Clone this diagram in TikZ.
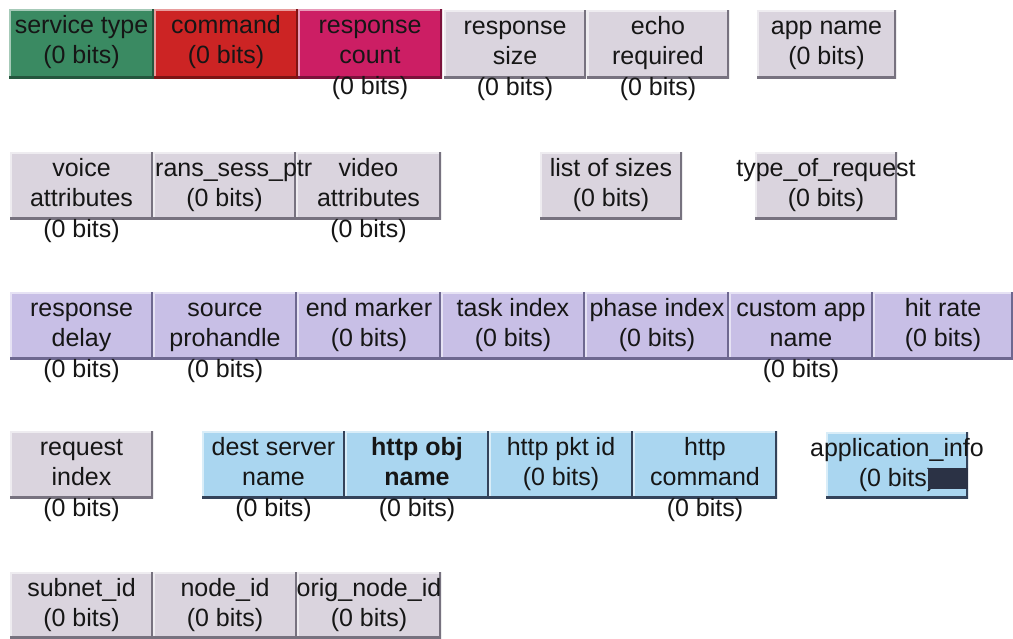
\documentclass[tikz,border=0pt]{standalone}
\usepackage{fontspec}
\setmainfont{Liberation Sans}
\definecolor{ink}{HTML}{161616}
\definecolor{fgray}{HTML}{DAD4DE}
\definecolor{fgrayedge}{HTML}{77727F}
\definecolor{flav}{HTML}{C8BFE6}
\definecolor{flavedge}{HTML}{6E6890}
\definecolor{fblue}{HTML}{AAD6F0}
\definecolor{fblueedge}{HTML}{34435A}
\definecolor{fgreen}{HTML}{3A8A62}
\definecolor{fgreenedge}{HTML}{24563D}
\definecolor{fred}{HTML}{CC2424}
\definecolor{frededge}{HTML}{7E1414}
\definecolor{fmag}{HTML}{CC1E64}
\definecolor{fmagedge}{HTML}{7C123C}
\definecolor{fnavy}{HTML}{2B3245}

\tikzset{
  % raised packet-field box: fill colour #1, shadow colour #2
  fieldbox/.style 2 args={rectangle, inner sep=0pt, outer sep=0pt,
    minimum height=68pt, fill=#1, anchor=north west,
    path picture={
      \draw[white!55!#1, line width=3pt]
        (path picture bounding box.south west) -- (path picture bounding box.north west)
        -- (path picture bounding box.north east);
      \draw[#2, line width=5pt]
        (path picture bounding box.south west) -- (path picture bounding box.south east)
        -- (path picture bounding box.north east);}},
  grayfield/.style={fieldbox={fgray}{fgrayedge}},
  lavfield/.style={fieldbox={flav}{flavedge}},
  bluefield/.style={fieldbox={fblue}{fblueedge}},
  greenfield/.style={fieldbox={fgreen}{fgreenedge}},
  redfield/.style={fieldbox={fred}{frededge}},
  magfield/.style={fieldbox={fmag}{fmagedge}},
  lbl/.style={inner sep=0pt, anchor=base, text=ink, font=\fontsize{25}{30}\selectfont},
}

% #1 id, #2 left, #3 right, #4 top, #5 style, #6 height
\newcommand\pfield[6]{%
  \node[#5, minimum width={(#3-#2)*1pt}, minimum height={#6*1pt}] (#1) at (#2,#4) {};}
% #1 id of the box, #2 line number (0,1,2), #3 text
\newcommand\pline[3]{%
  \node[lbl] (#1-#2) at ([yshift={-(24+30.5*#2)*1pt}]#1.north) {#3};}

\begin{document}
\begin{tikzpicture}[x=1pt,y=-1pt]
\useasboundingbox (0,0) rectangle (1013,638);
\fill[white] (0,0) rectangle (1013,638);

% ---- row 1
\pfield{svc}{9}{154}{9}{greenfield}{69}
\pfield{cmd}{154}{298}{9}{redfield}{69}
\pfield{rcount}{298}{442}{9}{magfield}{69}
\pfield{rsize}{444}{586}{10}{grayfield}{68}
\pfield{echo}{587}{729}{10}{grayfield}{68}
\pfield{app}{757}{896}{10}{grayfield}{68}
\pline{svc}{0}{service type}\pline{svc}{1}{(0 bits)}
\pline{cmd}{0}{command}\pline{cmd}{1}{(0 bits)}
\pline{rcount}{0}{response}\pline{rcount}{1}{count}\pline{rcount}{2}{(0 bits)}
\pline{rsize}{0}{response}\pline{rsize}{1}{size}\pline{rsize}{2}{(0 bits)}
\pline{echo}{0}{echo}\pline{echo}{1}{required}\pline{echo}{2}{(0 bits)}
\pline{app}{0}{app name}\pline{app}{1}{(0 bits)}

% ---- row 2
\pfield{voice}{10}{153}{152}{grayfield}{67}
\pfield{trans}{153}{296}{152}{grayfield}{67}
\pfield{video}{296}{441}{152}{grayfield}{67}
\pfield{sizes}{540}{682}{152}{grayfield}{67}
\pfield{treq}{755}{897}{152}{grayfield}{67}
\pline{voice}{0}{voice}\pline{voice}{1}{attributes}\pline{voice}{2}{(0 bits)}
\node[lbl, anchor=base west] (trans-0) at ([xshift=2pt,yshift=-24pt]trans.north west) {rans\_sess\_ptr};
\pline{trans}{1}{(0 bits)}
\pline{video}{0}{video}\pline{video}{1}{attributes}\pline{video}{2}{(0 bits)}
\pline{sizes}{0}{list of sizes}\pline{sizes}{1}{(0 bits)}
\pline{treq}{0}{type\_of\_request}\pline{treq}{1}{(0 bits)}

% ---- row 3
\pfield{rdelay}{10}{153}{292}{lavfield}{67}
\pfield{src}{153}{297}{292}{lavfield}{67}
\pfield{endm}{297}{441}{292}{lavfield}{67}
\pfield{task}{441}{585}{292}{lavfield}{67}
\pfield{phase}{585}{729}{292}{lavfield}{67}
\pfield{custom}{729}{873}{292}{lavfield}{67}
\pfield{hit}{873}{1013}{292}{lavfield}{67}
\pline{rdelay}{0}{response}\pline{rdelay}{1}{delay}\pline{rdelay}{2}{(0 bits)}
\pline{src}{0}{source}\pline{src}{1}{prohandle}\pline{src}{2}{(0 bits)}
\pline{endm}{0}{end marker}\pline{endm}{1}{(0 bits)}
\pline{task}{0}{task index}\pline{task}{1}{(0 bits)}
\pline{phase}{0}{phase index}\pline{phase}{1}{(0 bits)}
\pline{custom}{0}{custom app}\pline{custom}{1}{name}\pline{custom}{2}{(0 bits)}
\pline{hit}{0}{hit rate}\pline{hit}{1}{(0 bits)}

% ---- row 4
\pfield{reqidx}{10}{153}{431}{grayfield}{67}
\pfield{dest}{202}{345}{431}{bluefield}{67}
\pfield{hobj}{345}{489}{431}{bluefield}{67}
\pfield{hpkt}{489}{633}{431}{bluefield}{67}
\pfield{hcmd}{633}{777}{431}{bluefield}{67}
\pfield{appinfo}{826}{968}{432}{bluefield}{66}
\pline{reqidx}{0}{request}\pline{reqidx}{1}{index}\pline{reqidx}{2}{(0 bits)}
\pline{dest}{0}{dest server}\pline{dest}{1}{name}\pline{dest}{2}{(0 bits)}
\pline{hobj}{0}{\bfseries http obj}\pline{hobj}{1}{\bfseries name}\pline{hobj}{2}{(0 bits)}
\pline{hpkt}{0}{http pkt id}\pline{hpkt}{1}{(0 bits)}
\pline{hcmd}{0}{http}\pline{hcmd}{1}{command}\pline{hcmd}{2}{(0 bits)}
\pline{appinfo}{0}{application\_info}\pline{appinfo}{1}{(0 bits)}
\node[fill=fnavy, inner sep=0pt, minimum width=40pt, minimum height=21pt, anchor=north west]
  (mask) at (928,468) {};

% ---- row 5
\pfield{subnet}{10}{153}{572}{grayfield}{66}
\pfield{nodeid}{153}{297}{572}{grayfield}{66}
\pfield{orig}{297}{441}{572}{grayfield}{66}
\pline{subnet}{0}{subnet\_id}\pline{subnet}{1}{(0 bits)}
\pline{nodeid}{0}{node\_id}\pline{nodeid}{1}{(0 bits)}
\pline{orig}{0}{orig\_node\_id}\pline{orig}{1}{(0 bits)}
\end{tikzpicture}
\end{document}
